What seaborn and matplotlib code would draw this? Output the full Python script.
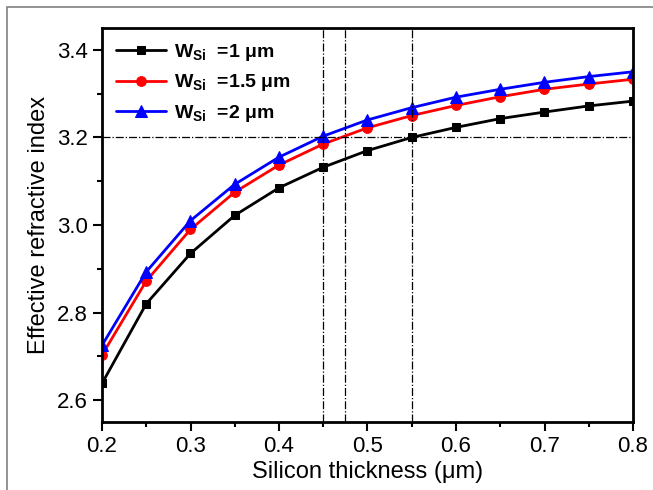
import matplotlib
matplotlib.use("Agg")
import matplotlib.pyplot as plt
import seaborn as sns
import pandas as pd
from matplotlib.patches import Rectangle
from matplotlib.ticker import MultipleLocator, FormatStrFormatter

thickness = [0.2, 0.25, 0.3, 0.35, 0.4, 0.45, 0.5, 0.55, 0.6, 0.65, 0.7, 0.75, 0.8]
neff_w1 = [2.638, 2.820, 2.935, 3.022, 3.085, 3.132, 3.170, 3.200, 3.223, 3.243, 3.258, 3.272, 3.283]
neff_w15 = [2.703, 2.872, 2.990, 3.075, 3.137, 3.185, 3.222, 3.250, 3.273, 3.293, 3.310, 3.322, 3.333]
neff_w2 = [2.725, 2.893, 3.010, 3.093, 3.155, 3.203, 3.240, 3.268, 3.292, 3.310, 3.326, 3.339, 3.350]
labels = [r"W$_{\mathbf{Si}}$  =1 μm", r"W$_{\mathbf{Si}}$  =1.5 μm", r"W$_{\mathbf{Si}}$  =2 μm"]
ref_y = 3.2
ref_x = [0.45, 0.475, 0.55]

sns.set_theme(style="ticks")
plt.rcParams['font.family'] = ['Liberation Sans', 'DejaVu Sans']
plt.rcParams['mathtext.fontset'] = 'custom'
plt.rcParams['mathtext.rm'] = 'Liberation Sans'
plt.rcParams['mathtext.bf'] = 'Liberation Sans:bold'
plt.rcParams['text.color'] = 'black'
plt.rcParams['axes.labelcolor'] = 'black'

fig = plt.figure(figsize=(6.53, 4.9), dpi=100)
fig.patches.append(Rectangle((7/653, -0.1), 1.2, 1 - 7/490 + 0.1, transform=fig.transFigure,
                             fill=False, edgecolor='#808080', linewidth=1.2))
ax = fig.add_axes([102/653, 1 - 422/490, (633 - 102)/653, (422 - 28)/490])

series = [(neff_w1, 'black', 's', 6), (neff_w15, 'red', 'o', 7), (neff_w2, 'blue', '^', 8)]
for (vals, col, mk, ms), lab in zip(series, labels):
    df = pd.DataFrame({'x': thickness, 'y': vals})
    sns.lineplot(data=df, x='x', y='y', ax=ax, color=col, marker=mk, markersize=ms,
                 markeredgecolor=col, linewidth=2, label=lab)

ax.axhline(ref_y, color='black', linestyle='-.', linewidth=0.9)
for xv in ref_x:
    ax.axvline(xv, color='black', linestyle='-.', linewidth=0.9)

ax.set_xlim(0.2, 0.8)
ax.set_ylim(2.55, 3.45)
ax.xaxis.set_major_locator(MultipleLocator(0.1))
ax.xaxis.set_minor_locator(MultipleLocator(0.05))
ax.yaxis.set_major_locator(MultipleLocator(0.2))
ax.yaxis.set_minor_locator(MultipleLocator(0.1))
ax.tick_params(which='major', direction='out', length=6.5, width=1.5, labelsize=16,
               colors='black', labelcolor='black')
ax.tick_params(which='minor', direction='out', length=3.5, width=1.5, colors='black')
ax.xaxis.set_major_formatter(FormatStrFormatter('%.1f'))
ax.yaxis.set_major_formatter(FormatStrFormatter('%.1f'))
for s in ax.spines.values():
    s.set_visible(True)
    s.set_linewidth(2)
    s.set_color('black')

ax.set_xlabel("Silicon thickness (μm)", fontsize=17, labelpad=3, color='black')
ax.set_ylabel("Effective refractive index", fontsize=17, labelpad=5, color='black')

leg = ax.legend(loc='upper left', frameon=False, handlelength=2.6,
                borderaxespad=0.3, labelspacing=0.5, handletextpad=0.4,
                prop={'weight': 'bold', 'size': 14, 'family': 'Liberation Sans'})
for t in leg.get_texts():
    t.set_color('black')

fig.savefig("out.png", dpi=100)
